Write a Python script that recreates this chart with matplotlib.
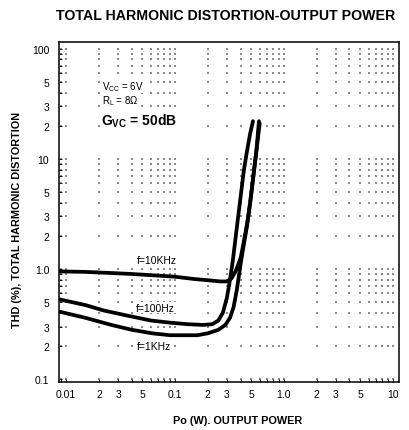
import numpy as np
import matplotlib
matplotlib.use("Agg")
import matplotlib.pyplot as plt
from matplotlib.ticker import FixedLocator, FixedFormatter, NullFormatter

plt.rcParams['font.family'] = ['Liberation Sans', 'DejaVu Sans']
plt.rcParams['mathtext.default'] = 'regular'

# output power (W) and THD (%)
p_10k = [0.0086, 0.015, 0.025, 0.04, 0.07, 0.1, 0.15, 0.2, 0.26, 0.3, 0.33,
         0.36, 0.40, 0.43, 0.46, 0.49, 0.52, 0.56, 0.59]
thd_10k = [0.95, 0.94, 0.92, 0.90, 0.87, 0.85, 0.81, 0.79, 0.77, 0.77, 0.82,
           0.95, 1.25, 1.8, 2.6, 4.0, 6.5, 12, 22]

p_100 = [0.0086, 0.015, 0.022, 0.035, 0.06, 0.09, 0.13, 0.18, 0.22, 0.25,
         0.275, 0.30, 0.32, 0.34, 0.37, 0.40, 0.43, 0.46, 0.49, 0.52]
thd_100 = [0.53, 0.47, 0.42, 0.38, 0.34, 0.325, 0.315, 0.31, 0.315, 0.34,
           0.40, 0.55, 0.8, 1.2, 2.4, 4.5, 8.0, 12, 17, 22]

p_1k = [0.0086, 0.015, 0.026, 0.04, 0.062, 0.09, 0.12, 0.16, 0.2, 0.25, 0.29,
        0.32, 0.345, 0.37, 0.40, 0.43, 0.46, 0.49, 0.52, 0.56, 0.60]
thd_1k = [0.41, 0.36, 0.31, 0.28, 0.26, 0.25, 0.25, 0.25, 0.26, 0.28, 0.31,
          0.36, 0.45, 0.65, 1.1, 1.7, 2.5, 4.0, 6.5, 12, 21]

x_ticks = [0.01, 0.02, 0.03, 0.05, 0.1, 0.2, 0.3, 0.5, 1, 2, 3, 5, 10]
x_labels = ['0.01', '2', '3', '5', '0.1', '2', '3', '5', '1.0', '2', '3', '5', '10']
y_ticks = [0.1, 0.2, 0.3, 0.5, 1, 2, 3, 5, 10, 20, 30, 50, 100]
y_labels = ['0.1', '2', '3', '5', '1.0', '2', '3', '5', '10', '2', '3', '5', '100']

fig = plt.figure(figsize=(4.1, 4.31), dpi=100)
ax = fig.add_axes([0.144, 0.1114, 0.829, 0.7886])
ax.set_xscale('log')
ax.set_yscale('log')
xlim = (0.0086, 11.4)
ylim = (0.094, 115)
ax.set_xlim(*xlim)
ax.set_ylim(*ylim)

# dotted grid: dots at the intersections of the log lines
minor = np.array([m * 10.0 ** k for k in range(-3, 3) for m in range(1, 10)])
gx = minor[(minor > xlim[0]) & (minor < xlim[1])]
gy = minor[(minor > ylim[0]) & (minor < ylim[1])]
GX, GY = np.meshgrid(gx, gy)
ax.scatter(GX.ravel(), GY.ravel(), s=0.9, color='0.55', marker='s', lw=0, zorder=1)

for p, t in [(p_10k, thd_10k), (p_100, thd_100), (p_1k, thd_1k)]:
    ax.plot(p, t, color='black', lw=2.7, solid_capstyle='round', zorder=3)

ax.xaxis.set_major_locator(FixedLocator(x_ticks))
ax.xaxis.set_major_formatter(FixedFormatter(x_labels))
ax.xaxis.set_minor_locator(FixedLocator(gx))
ax.xaxis.set_minor_formatter(NullFormatter())
ax.yaxis.set_major_locator(FixedLocator(y_ticks))
ax.yaxis.set_major_formatter(FixedFormatter(y_labels))
ax.yaxis.set_minor_locator(FixedLocator(gy))
ax.yaxis.set_minor_formatter(NullFormatter())
ax.tick_params(axis='both', which='both', direction='in', length=2.5, width=0.6,
               labelsize=7.5)
ax.tick_params(axis='x', which='major', pad=5)
ax.tick_params(axis='y', which='major', pad=7)
for s in ax.spines.values():
    s.set_linewidth(1.1)

box = dict(facecolor='white', edgecolor='none', pad=0.5)
ax.text(0.068, 1.2, 'f=10KHz', fontsize=7.5, ha='center', va='center', bbox=box, zorder=2)
ax.text(0.066, 0.445, 'f=100Hz', fontsize=7.5, ha='center', va='center', bbox=box, zorder=2)
ax.text(0.064, 0.198, 'f=1KHz', fontsize=7.5, ha='center', va='center', bbox=box, zorder=2)

ax.text(0.126, 0.872, r'V$_{CC}$ = 6V', fontsize=7, transform=ax.transAxes, va='center',
        bbox=box)
ax.text(0.126, 0.829, r'R$_{L}$ = 8Ω', fontsize=7, transform=ax.transAxes, va='center',
        bbox=box)
ax.text(0.123, 0.771, r'G$_{VC}$ = 50dB', fontsize=10, transform=ax.transAxes,
        va='center', fontweight='bold', bbox=box)

fig.text(0.551, 0.962, 'TOTAL HARMONIC DISTORTION-OUTPUT POWER', fontsize=10.2,
         fontweight='bold', ha='center', va='center')
fig.text(0.58, 0.023, 'Po (W). OUTPUT POWER', fontsize=7.8, fontweight='bold',
         ha='center', va='center')
fig.text(0.041, 0.49, 'THD (%), TOTAL HARMONIC DISTORTION', fontsize=7.8,
         fontweight='bold', ha='center', va='center', rotation=90)

fig.savefig('out.png', dpi=100)
